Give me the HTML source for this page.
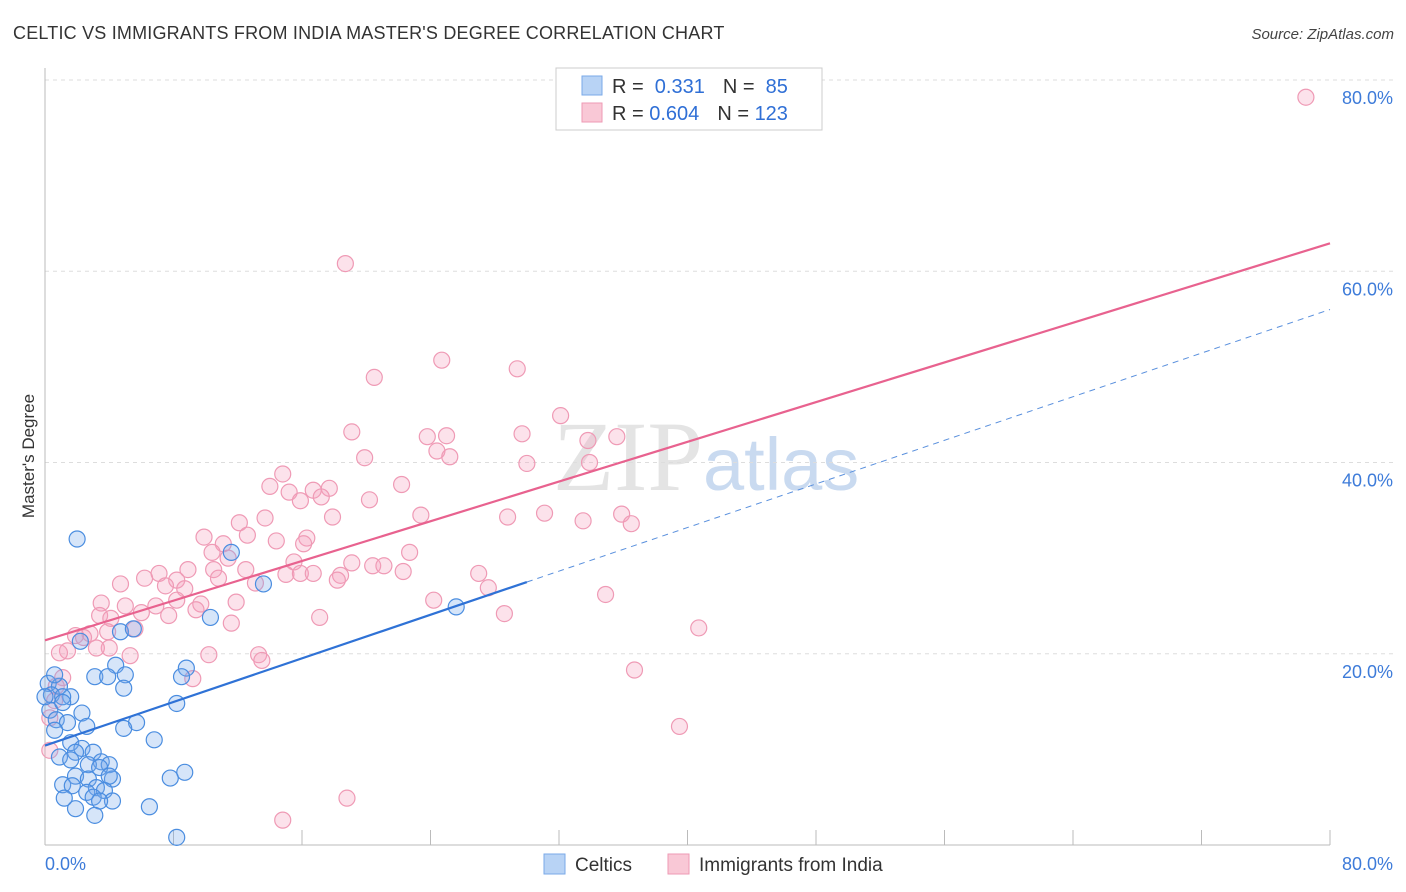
<!DOCTYPE html>
<html><head><meta charset="utf-8">
<style>
body{margin:0;background:#fff;font-family:"Liberation Sans",sans-serif;}
svg{display:block}
</style></head>
<body>
<svg id="chart" width="1406" height="892" xmlns="http://www.w3.org/2000/svg">
<text x="13" y="39" font-size="18" fill="#333" letter-spacing="0.2">CELTIC VS IMMIGRANTS FROM INDIA MASTER'S DEGREE CORRELATION CHART</text>
<text x="1394" y="39" font-size="15" fill="#444" font-style="italic" text-anchor="end">Source: ZipAtlas.com</text>
<text x="553" y="490" font-size="100" fill="#e4e4e4" font-family="Liberation Serif">ZIP<tspan fill="#c9daf0" font-family="Liberation Sans" font-size="74">atlas</tspan></text>
<text transform="translate(34,456) rotate(-90)" font-size="17" fill="#333" text-anchor="middle">Master's Degree</text>
<g id="grid"></g>
<g id="points"></g>
<g id="trends"></g>
<g>
<rect x="556" y="68" width="266" height="62" fill="#fff" stroke="#ccc"/>
<rect x="582" y="76" width="20" height="19" fill="#b8d3f5" stroke="#7aaae8"/>
<rect x="582" y="103" width="20" height="19" fill="#f9c8d6" stroke="#ee9ab4"/>
<text x="612" y="93" font-size="20" fill="#333">R = <tspan fill="#2f6fd6">&#160;0.331</tspan><tspan dx="18">N = </tspan><tspan fill="#2f6fd6">&#160;85</tspan></text>
<text x="612" y="120" font-size="20" fill="#333">R = <tspan fill="#2f6fd6">0.604</tspan><tspan dx="18">N = </tspan><tspan fill="#2f6fd6">123</tspan></text>
</g>
<g>
<rect x="544" y="854" width="21" height="20" fill="#b8d3f5" stroke="#7aaae8"/>
<text x="575" y="871" font-size="19" fill="#333">Celtics</text>
<rect x="668" y="854" width="21" height="20" fill="#f9c8d6" stroke="#ee9ab4"/>
<text x="699" y="871" font-size="19" fill="#333">Immigrants from India</text>
</g>
</svg>
<script>
const yTicks=[20,40,60,80];
const yTickLabels=["20.0%","40.0%","60.0%","80.0%"];
const xTickLabels=["0.0%","80.0%"];
const celticsX=[2.0,11.6,13.6,10.3,25.6,4.7,5.5,2.2,4.4,8.8,3.1,3.9,5.0,8.5,4.9,0.2,0.9,0.4,1.6,1.1,8.2,0.3,2.3,0.7,1.4,2.6,5.7,4.9,0.6,6.8,1.6,2.3,1.9,3.0,0.9,1.6,3.5,2.7,4.0,3.4,8.7,7.8,1.9,2.7,4.2,4.0,1.1,1.7,3.2,3.7,2.6,1.2,3.0,4.2,3.4,1.9,6.5,3.1,8.2,0.6,0,1.1];
const celticsY=[32.0,30.6,27.3,23.8,24.9,22.3,22.6,21.3,18.8,18.5,17.6,17.6,17.8,17.6,16.4,16.9,16.6,15.7,15.5,15.5,14.8,14.1,13.8,13.1,12.8,12.4,12.8,12.2,12.0,11.0,10.7,10.1,9.7,9.7,9.2,8.9,8.7,8.4,8.4,8.1,7.6,7.0,7.2,6.9,6.9,7.2,6.3,6.2,6.0,5.7,5.5,4.9,5.0,4.6,4.6,3.8,4.0,3.1,0.8,17.8,15.5,14.9];
const indiaX=[78.5,18.7,24.7,29.4,20.5,32.1,19.1,23.8,25.0,29.7,33.8,35.6,24.4,25.2,19.9,30.0,33.9,14.8,14.0,22.2,15.2,16.7,17.7,17.2,15.9,20.2,17.9,13.7,12.1,23.4,28.8,31.1,33.5,35.9,36.5,9.9,12.6,16.3,14.4,16.1,11.1,10.4,22.7,11.4,15.5,19.1,20.4,21.1,12.5,8.9,10.5,15.0,15.9,16.7,7.1,6.2,8.2,18.4,22.3,27.0,10.8,18.2,13.1,4.7,7.5,8.7,27.6,34.9,8.2,9.7,11.9,24.2,3.5,5.0,6.9,9.4,6.0,3.4,4.1,7.7,28.6,17.1,11.6,5.6,3.9,2.8,1.9,2.4,40.7,4.0,3.2,1.4,0.9,5.3,10.2,13.3,13.5,36.7,9.2,1.1,0.7,39.5,18.8,14.8,0.3,0.6,0.3];
const indiaY=[78.2,60.8,50.7,49.8,48.9,44.9,43.2,42.7,42.8,43.0,42.3,42.7,41.2,40.6,40.5,39.9,40.0,38.8,37.5,37.7,36.9,37.1,37.3,36.4,36.0,36.1,34.3,34.2,33.7,34.5,34.3,34.7,33.9,34.6,33.6,32.2,32.4,32.1,31.8,31.5,31.5,30.6,30.6,30.0,29.6,29.5,29.2,29.2,28.8,28.8,28.8,28.3,28.4,28.4,28.4,27.9,27.7,28.2,28.6,28.4,27.9,27.7,27.4,27.3,27.1,26.8,26.9,26.2,25.6,25.2,25.4,25.6,25.3,25.0,25.0,24.6,24.3,24.0,23.7,24.0,24.2,23.8,23.2,22.6,22.3,22.1,21.9,21.7,22.7,20.6,20.6,20.3,20.1,19.8,19.9,19.9,19.3,18.3,17.4,17.5,16.6,12.4,4.9,2.6,9.9,15.1,13.3];
const celticsTrend=[10.4,0.57];
const indiaTrend=[21.4,0.519];
const NS="http://www.w3.org/2000/svg";
const X0=45,X1=1330,Y0=845,Y80=80;
function xs(v){return X0+(X1-X0)*v/80;}
function ys(v){return Y0-(Y0-Y80)*v/80;}
function mk(tag,attrs,parent){const e=document.createElementNS(NS,tag);for(const k in attrs)e.setAttribute(k,attrs[k]);parent.appendChild(e);return e;}
const grid=document.getElementById('grid');
yTicks.forEach((t,i)=>{
 const l=mk('line',{x1:X0,x2:1394,y1:ys(t),y2:ys(t),stroke:'#ddd','stroke-dasharray':'4,4'},grid);
 
 
 const tx=mk('text',{x:1393,y:ys(t)+24,'font-size':18,fill:'#3d7bd9','text-anchor':'end'},grid);
 tx.textContent=yTickLabels[i];
 
 
});
const ax=mk('line',{x1:X0,x2:X0,y1:68,y2:Y0,stroke:'#bbb'},grid);


const bx=mk('line',{x1:X0,x2:X1,y1:Y0,y2:Y0,stroke:'#bbb'},grid);


for(let i=0;i<=10;i++){
 const t=mk('line',{x1:xs(i*8),x2:xs(i*8),y1:830,y2:Y0,stroke:'#bbb'},grid);
 
 
}
const xl0=mk('text',{x:45,y:870,'font-size':18,fill:'#3d7bd9'},grid);xl0.textContent=xTickLabels[0];


const xl1=mk('text',{x:1393,y:870,'font-size':18,fill:'#3d7bd9','text-anchor':'end'},grid);xl1.textContent=xTickLabels[1];


const pts=document.getElementById('points');
indiaX.forEach((v,i)=>{
 const c=mk('circle',{cx:xs(v),cy:ys(indiaY[i]),r:8,fill:'rgba(244,160,188,0.3)',stroke:'#ef9ab5','stroke-width':1.2},pts);
 
 
});
celticsX.forEach((v,i)=>{
 const c=mk('circle',{cx:xs(v),cy:ys(celticsY[i]),r:8,fill:'rgba(120,170,235,0.3)',stroke:'#4a8de0','stroke-width':1.2},pts);
 
 
});
const tr=document.getElementById('trends');
const pl=mk('line',{x1:xs(0),y1:ys(indiaTrend[0]),x2:xs(80),y2:ys(indiaTrend[0]+indiaTrend[1]*80),stroke:'#e8628f','stroke-width':2.2},tr);


const bl=mk('line',{x1:xs(0),y1:ys(celticsTrend[0]),x2:xs(30),y2:ys(celticsTrend[0]+celticsTrend[1]*30),stroke:'#2f72d6','stroke-width':2.2},tr);


const bd=mk('line',{x1:xs(30),y1:ys(celticsTrend[0]+celticsTrend[1]*30),x2:xs(80),y2:ys(celticsTrend[0]+celticsTrend[1]*80),stroke:'#5a90dd','stroke-width':1,'stroke-dasharray':'6,5'},tr);


</script>
</body></html>
